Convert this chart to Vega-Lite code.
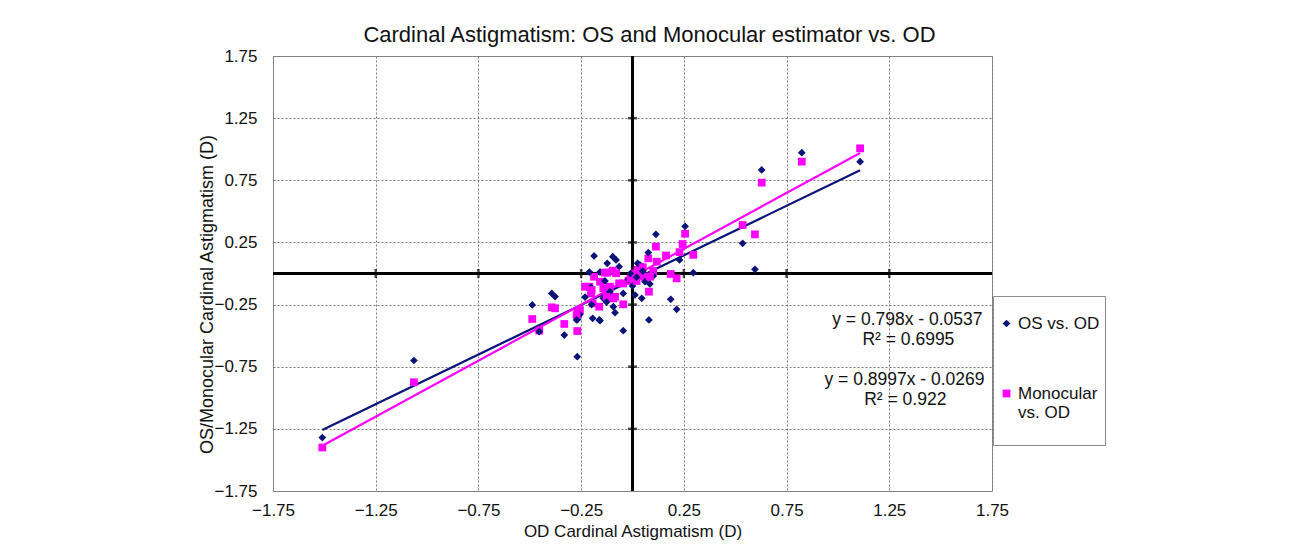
{
  "$schema": "https://vega.github.io/schema/vega-lite/v6.json",
  "autosize": "none",
  "width": 719,
  "height": 435,
  "padding": {"left": 273, "top": 56, "right": 297, "bottom": 57},
  "background": "white",
  "config": {
    "font": "Liberation Sans",
    "view": {"stroke": "#8c8c8c", "strokeWidth": 1},
    "axis": {"labelFont": "Liberation Sans", "titleFont": "Liberation Sans", "labelColor": "#111", "titleColor": "#111", "titleFontWeight": "normal"}
  },
  "title": {
    "text": "Cardinal Astigmatism: OS and Monocular estimator vs. OD",
    "font": "Liberation Sans",
    "fontSize": 22,
    "fontWeight": "normal",
    "color": "#111",
    "dx": 17,
    "offset": 0
  },
  "datasets": {
    "pts": [
      {"x": -1.51, "os": -1.32, "mono": -1.40},
      {"x": -1.064, "os": -0.70, "mono": -0.875},
      {"x": 1.108, "os": 0.90, "mono": 1.007},
      {"x": 0.824, "os": 0.972, "mono": 0.90},
      {"x": 0.629, "os": 0.833, "mono": 0.731},
      {"x": 0.536, "os": 0.243, "mono": 0.39},
      {"x": 0.596, "os": 0.034, "mono": 0.315},
      {"x": 0.256, "os": 0.38, "mono": 0.32},
      {"x": 0.244, "os": null, "mono": 0.237},
      {"x": 0.296, "os": 0.007, "mono": 0.15},
      {"x": 0.114, "os": 0.315, "mono": 0.216},
      {"x": 0.229, "os": 0.109, "mono": 0.172},
      {"x": 0.163, "os": null, "mono": 0.145},
      {"x": 0.186, "os": -0.208, "mono": -0.004},
      {"x": 0.215, "os": -0.288, "mono": -0.039},
      {"x": 0.077, "os": 0.168, "mono": 0.122},
      {"x": 0.118, "os": null, "mono": 0.095},
      {"x": 0.08, "os": -0.374, "mono": -0.146},
      {"x": 0.045, "os": -0.2, "mono": -0.02},
      {"x": 0.012, "os": -0.173, "mono": 0.0},
      {"x": 0.037, "os": 0.068, "mono": 0.055},
      {"x": 0.061, "os": -0.066, "mono": -0.03},
      {"x": 0.101, "os": -0.02, "mono": 0.02},
      {"x": 0.085, "os": -0.084, "mono": -0.026},
      {"x": 0.025, "os": 0.082, "mono": 0.03},
      {"x": -0.045, "os": -0.46, "mono": -0.248},
      {"x": -0.045, "os": -0.16, "mono": -0.08},
      {"x": -0.065, "os": 0.055, "mono": -0.079},
      {"x": -0.096, "os": 0.135, "mono": 0.023},
      {"x": -0.08, "os": 0.109, "mono": 0.002},
      {"x": -0.123, "os": 0.082, "mono": 0.007},
      {"x": -0.187, "os": 0.141, "mono": -0.026},
      {"x": -0.21, "os": 0.012, "mono": -0.106},
      {"x": -0.158, "os": 0.012, "mono": -0.066},
      {"x": -0.393, "os": -0.16, "mono": -0.272},
      {"x": -0.377, "os": -0.186, "mono": -0.28},
      {"x": -0.488, "os": -0.253, "mono": -0.366},
      {"x": -0.454, "os": -0.468, "mono": -0.46},
      {"x": -0.332, "os": -0.495, "mono": -0.406},
      {"x": -0.269, "os": -0.669, "mono": -0.463},
      {"x": -0.267, "os": -0.369, "mono": -0.315},
      {"x": -0.194, "os": -0.361, "mono": -0.24},
      {"x": -0.162, "os": -0.374, "mono": -0.267},
      {"x": -0.158, "os": -0.38, "mono": null},
      {"x": -0.093, "os": -0.267, "mono": -0.2},
      {"x": -0.085, "os": -0.315, "mono": -0.187},
      {"x": -0.202, "os": -0.111, "mono": -0.16},
      {"x": -0.142, "os": -0.2, "mono": -0.119},
      {"x": -0.11, "os": -0.146, "mono": -0.106},
      {"x": -0.256, "os": -0.33, "mono": -0.294},
      {"x": -0.272, "os": -0.374, "mono": -0.334},
      {"x": -0.199, "os": -0.25, "mono": -0.133},
      {"x": -0.231, "os": -0.19, "mono": -0.106},
      {"x": -0.02, "os": -0.05, "mono": -0.06},
      {"x": 0.0, "os": -0.1, "mono": -0.02},
      {"x": 0.05, "os": 0.02, "mono": 0.05},
      {"x": -0.01, "os": 0.0, "mono": -0.04},
      {"x": -0.126, "os": -0.23, "mono": -0.187},
      {"x": -0.134, "os": -0.06, "mono": 0.007},
      {"x": 0.02, "os": -0.03, "mono": -0.06}
    ],
    "fit": [
      {"series": "os", "x": -1.51, "y": -1.2587},
      {"series": "os", "x": 1.108, "y": 0.8305},
      {"series": "mono", "x": -1.51, "y": -1.3854},
      {"series": "mono", "x": 1.108, "y": 0.970}
    ],
    "ticksx": [{"v": -1.25}, {"v": -0.75}, {"v": -0.25}, {"v": 0.25}, {"v": 0.75}, {"v": 1.25}],
    "notes": [
      {"tx": 1.338, "ty": -0.374, "t": "y = 0.798x - 0.0537"},
      {"tx": 1.343, "ty": -0.535, "t": "R² = 0.6995"},
      {"tx": 1.324, "ty": -0.857, "t": "y = 0.8997x - 0.0269"},
      {"tx": 1.328, "ty": -1.02, "t": "R² = 0.922"}
    ]
  },
  "layer": [
    {
      "data": {"values": [{"z": 0}]},
      "mark": {"type": "rule", "color": "black", "strokeWidth": 3},
      "encoding": {
        "x": {"field": "z", "type": "quantitative", "scale": {"domain": [-1.75, 1.75], "nice": false, "zero": false},
          "axis": {"values": [-1.75, -1.25, -0.75, -0.25, 0.25, 0.75, 1.25, 1.75], "format": ".2f", "grid": true, "gridColor": "#7a7a7a", "gridDash": [2, 2], "gridWidth": 1, "domain": false, "ticks": false, "labelFontSize": 17, "labelPadding": 11, "labelFlush": false, "labelOverlap": false, "title": "OD Cardinal Astigmatism (D)", "titleFontSize": 17, "titleBaseline": "middle", "titleY": 40, "titleX": 359.5}}
      }
    },
    {
      "data": {"values": [{"z": 0}]},
      "mark": {"type": "rule", "color": "black", "strokeWidth": 3},
      "encoding": {
        "y": {"field": "z", "type": "quantitative", "scale": {"domain": [-1.75, 1.75], "nice": false, "zero": false},
          "axis": {"values": [-1.75, -1.25, -0.75, -0.25, 0.25, 0.75, 1.25, 1.75], "format": ".2f", "grid": true, "gridColor": "#7a7a7a", "gridDash": [2, 2], "gridWidth": 1, "domain": false, "ticks": false, "labelFontSize": 17, "labelPadding": 16, "labelFlush": false, "labelOverlap": false, "title": "OS/Monocular Cardinal Astigmatism (D)", "titleFontSize": 18, "titleAngle": -90, "titleBaseline": "middle", "titleAlign": "center", "titleX": -66, "titleY": 238}}
      }
    },
    {
      "data": {"name": "ticksx"},
      "mark": {"type": "tick", "color": "black", "orient": "vertical", "size": 9, "thickness": 2.5},
      "encoding": {
        "x": {"field": "v", "type": "quantitative"},
        "y": {"datum": 0, "type": "quantitative"}
      }
    },
    {
      "data": {"name": "ticksx"},
      "mark": {"type": "tick", "color": "black", "orient": "horizontal", "size": 9, "thickness": 2.5},
      "encoding": {
        "y": {"field": "v", "type": "quantitative"},
        "x": {"datum": 0, "type": "quantitative"}
      }
    },
    {
      "data": {"name": "fit"},
      "transform": [{"filter": "datum.series == 'os'"}],
      "mark": {"type": "line", "color": "#0a1478", "strokeWidth": 2.2},
      "encoding": {
        "x": {"field": "x", "type": "quantitative"},
        "y": {"field": "y", "type": "quantitative"}
      }
    },
    {
      "data": {"name": "fit"},
      "transform": [{"filter": "datum.series == 'mono'"}],
      "mark": {"type": "line", "color": "#ff00ff", "strokeWidth": 2.2},
      "encoding": {
        "x": {"field": "x", "type": "quantitative"},
        "y": {"field": "y", "type": "quantitative"}
      }
    },
    {
      "data": {"name": "pts"},
      "transform": [
        {"fold": ["mono", "os"], "as": ["series", "val"]},
        {"filter": "datum.val != null"}
      ],
      "mark": {"type": "point", "filled": true, "opacity": 1, "strokeWidth": 0},
      "encoding": {
        "x": {"field": "x", "type": "quantitative"},
        "y": {"field": "val", "type": "quantitative"},
        "color": {"field": "series", "type": "nominal",
          "scale": {"domain": ["os", "mono"], "range": ["#0a1478", "#ff00ff"]},
          "legend": {"orient": "none", "legendX": 720, "legendY": 240, "title": " ", "titleFontSize": 6, "titlePadding": 8, "strokeColor": "#8c8c8c", "padding": 5, "labelFontSize": 17, "labelFont": "Liberation Sans", "labelColor": "#111", "symbolSize": 30, "rowPadding": 52, "labelLimit": 200, "labelOffset": 3,
            "labelExpr": "datum.value == 'os' ? 'OS vs. OD' : ['Monocular', 'vs. OD', '']"}},
        "shape": {"field": "series", "type": "nominal",
          "scale": {"domain": ["os", "mono"], "range": ["diamond", "square"]}},
        "size": {"field": "series", "type": "nominal", "scale": {"domain": ["os", "mono"], "range": [60, 60]}, "legend": null}
      }
    },
    {
      "data": {"name": "notes"},
      "mark": {"type": "text", "fontSize": 17.5, "font": "Liberation Sans", "color": "#111", "align": "center", "baseline": "middle"},
      "encoding": {
        "x": {"field": "tx", "type": "quantitative"},
        "y": {"field": "ty", "type": "quantitative"},
        "text": {"field": "t"}
      }
    }
  ]
}
